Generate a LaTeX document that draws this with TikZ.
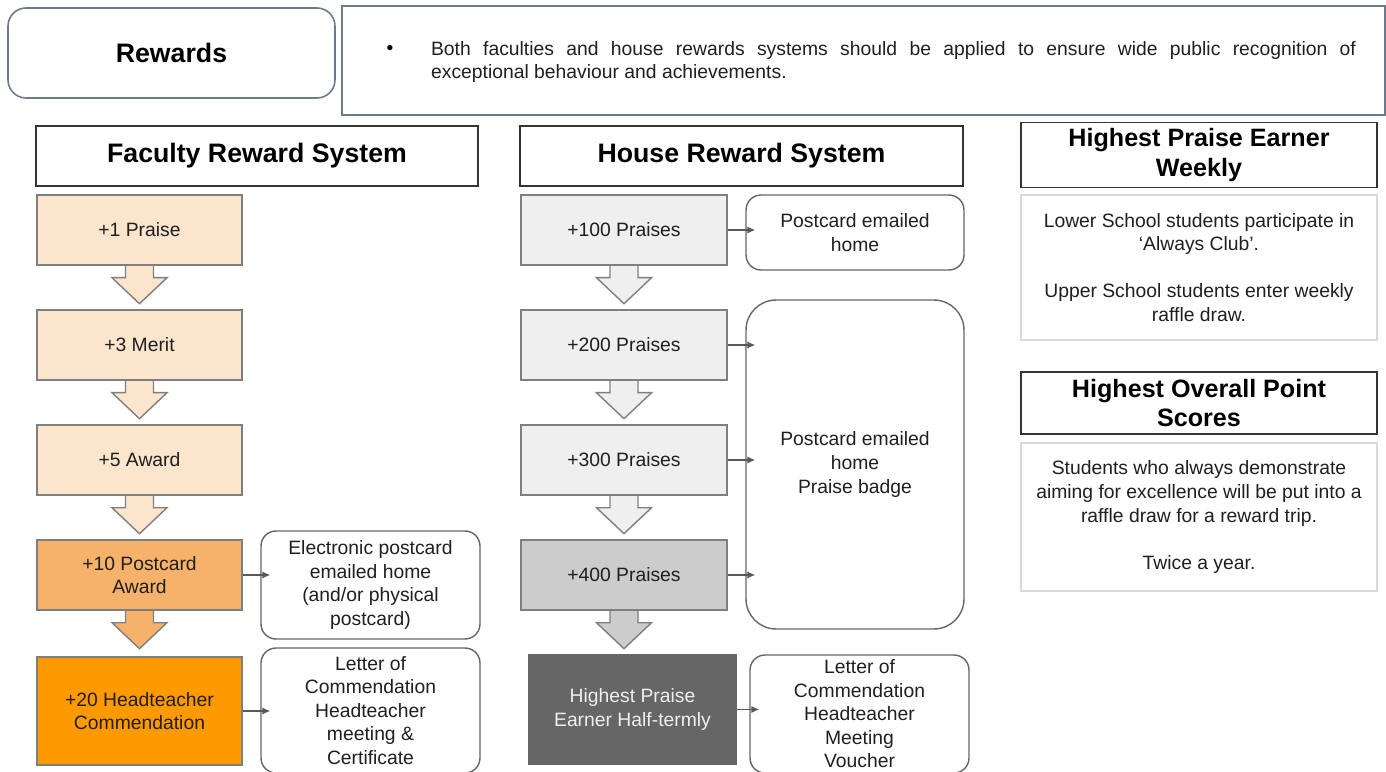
\documentclass[tikz,border=0pt]{standalone}
\usepackage{fontspec}
\setmainfont{Liberation Sans}
\usetikzlibrary{arrows.meta}

\definecolor{peach}{HTML}{FCE5CD}
\definecolor{apricot}{HTML}{F6B26B}
\definecolor{amber}{HTML}{FF9900}
\definecolor{mist}{HTML}{EFEFEF}
\definecolor{silver}{HTML}{CCCCCC}
\definecolor{slate}{HTML}{666666}
\definecolor{edge}{HTML}{7F7F7F}
\definecolor{ink}{HTML}{1F1F1F}
\definecolor{frame}{HTML}{6B7A8C}
\definecolor{pale}{HTML}{D9D9D9}

\newcommand{\bodyfont}{\fontsize{11}{13.4}\selectfont}
\newcommand{\headfont}{\fontsize{15.2}{18}\selectfont\bfseries}
\newcommand{\sidefont}{\fontsize{14.3}{17}\selectfont\bfseries}

% block arrow hanging below a tier box
\newcommand{\blockdown}[2]{%
  \filldraw[block, fill=#2] (#1.south) ++(-14,0.5) -- ++(0,11.5) -- ++(-13.5,0)
    -- ++(27.5,26) -- ++(27.5,-26) -- ++(-13.5,0) -- ++(0,-11.5);}

\begin{document}
\begin{tikzpicture}[x=0.02cm, y=-0.02cm,
    tier/.style={draw=edge, line width=0.8pt, minimum width=4.1cm, minimum height=1.4cm,
                 align=center, font=\bodyfont, text=ink, inner sep=2pt},
    note/.style={draw=black!60, line width=0.8pt, rounded corners=0.3cm, minimum width=4.38cm,
                 align=center, font=\bodyfont, text=ink, inner sep=2pt},
    head/.style={draw=black!80, line width=1.1pt, align=center, text=black},
    panel/.style={draw=pale, line width=1.1pt, minimum width=7.12cm, align=center,
                  font=\bodyfont, text=ink},
    link/.style={draw=black!65, line width=0.7pt, -{Latex[length=4.5pt,width=4pt]},
                 shorten >=-0.2cm},
    block/.style={draw=edge, line width=0.8pt}]
        \useasboundingbox (0,0) rectangle (1386,771);

        % Top
        \node(rewards) [draw=frame, line width=0.9pt, rounded corners=0.36cm, minimum width=6.54cm,
            minimum height=1.8cm, font=\headfont] at (171.5,53) {Rewards};
        \node(introbox) [draw=frame, line width=0.9pt, minimum width=20.86cm, minimum height=2.18cm]
            at (863.5,60.5) {};
        \node(dot) [font=\bodyfont] at (390,50) {\textbullet};
        \node(intro) [text width=18.5cm, align=justify, inner sep=0pt, font=\bodyfont, text=ink]
            at (893.5,62) {Both faculties and house rewards systems should be applied to ensure wide
            public recognition of\linebreak exceptional behaviour and achievements.};

        % Headers
        \node(facHead) [head, minimum width=8.84cm, minimum height=1.2cm, font=\headfont]
            at (257,156) {Faculty Reward System};
        \node(houseHead) [head, minimum width=8.86cm, minimum height=1.2cm, font=\headfont]
            at (741.5,156) {House Reward System};
        \node(weekHead) [head, minimum width=7.12cm, minimum height=1.24cm, font=\sidefont]
            at (1199,155) {Highest Praise Earner\\Weekly};
        \node(scoreHead) [head, minimum width=7.12cm, minimum height=1.24cm, font=\sidefont]
            at (1199,403) {Highest Overall Point\\Scores};

        % Side panels
        \node(weekBody) [panel, minimum height=2.9cm] at (1199,267.5)
            {Lower School students participate in\\‘Always Club’.\\[13.4pt]
             Upper School students enter weekly\\raffle draw.};
        \node(scoreBody) [panel, minimum height=2.96cm] at (1199,517)
            {Students who always demonstrate\\aiming for excellence will be put into a\\
             raffle draw for a reward trip.\\[13.4pt]Twice a year.};

        % Faculty tiers
        \node(fac1) [tier, fill=peach] at (139.5,230) {+1 Praise};
        \node(fac2) [tier, fill=peach] at (139.5,345) {+3 Merit};
        \node(fac3) [tier, fill=peach] at (139.5,460) {+5 Award};
        \node(fac4) [tier, fill=apricot] at (139.5,575) {+10 Postcard\\Award};
        \node(fac5) [tier, fill=amber, minimum height=2.16cm] at (139.5,711)
            {+20 Headteacher\\Commendation};
        \node(facNote1) [note, minimum height=2.16cm] at (370.5,585)
            {Electronic postcard\\emailed home\\(and/or physical\\postcard)};
        \node(facNote2) [note, minimum height=2.5cm] at (370.5,710.5)
            {Letter of\\Commendation\\Headteacher\\meeting \&\\Certificate};

        % House tiers
        \node(house1) [tier, fill=mist, minimum width=4.12cm] at (624,230) {+100 Praises};
        \node(house2) [tier, fill=mist, minimum width=4.12cm] at (624,345) {+200 Praises};
        \node(house3) [tier, fill=mist, minimum width=4.12cm] at (624,460) {+300 Praises};
        \node(house4) [tier, fill=silver, minimum width=4.12cm] at (624,575) {+400 Praises};
        \node(houseTop) [tier, fill=slate, draw=slate, text=mist, minimum width=4.14cm,
            minimum height=2.18cm] at (632.5,709.5) {Highest Praise\\Earner Half-termly};
        \node(houseNote1) [note, minimum width=4.36cm, minimum height=1.5cm] at (855,232.5)
            {Postcard emailed\\home};
        \node(houseNote2) [note, minimum width=4.36cm, minimum height=6.58cm,
            rounded corners=0.6cm] at (855,464.5) {Postcard emailed\\home\\Praise badge};
        \node(houseNote3) [note, minimum height=2.36cm] at (859.5,714)
            {Letter of\\Commendation\\Headteacher\\Meeting\\Voucher};

        % Block arrows
        \blockdown{fac1}{peach}
        \blockdown{fac2}{peach}
        \blockdown{fac3}{peach}
        \blockdown{fac4}{apricot}
        \blockdown{house1}{mist}
        \blockdown{house2}{mist}
        \blockdown{house3}{mist}
        \blockdown{house4}{silver}

        % Edges
        \draw[link] (fac4.east) -- (fac4.east -| facNote1.west);
        \draw[link] (fac5.east) -- (fac5.east -| facNote2.west);
        \draw[link] (house1.east) -- (house1.east -| houseNote1.west);
        \draw[link] (house2.east) -- (house2.east -| houseNote2.west);
        \draw[link] (house3.east) -- (house3.east -| houseNote2.west);
        \draw[link] (house4.east) -- (house4.east -| houseNote2.west);
        \draw[link] (houseTop.east) -- (houseTop.east -| houseNote3.west);

    \end{tikzpicture}
\end{document}
